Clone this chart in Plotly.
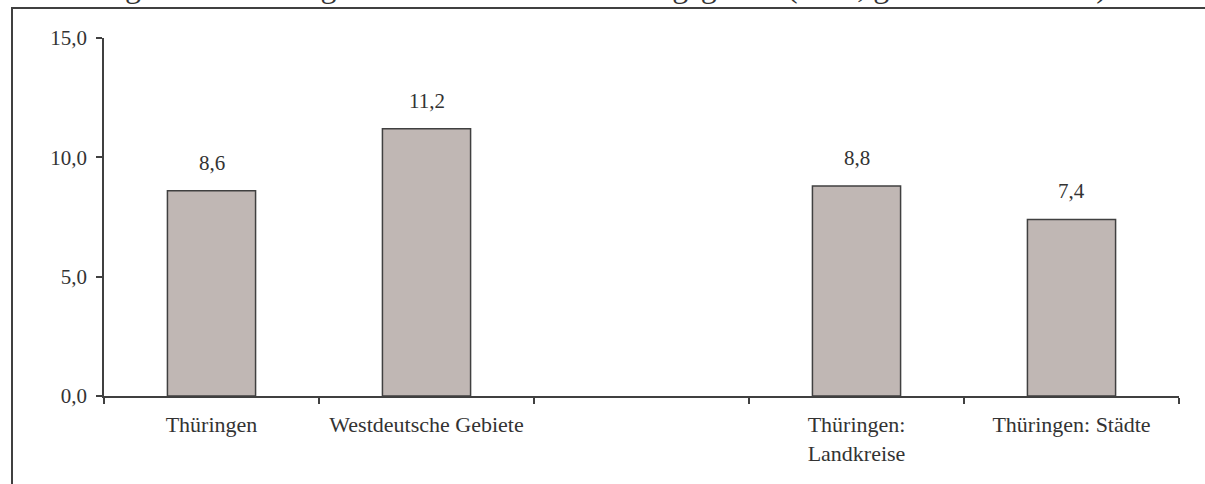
import plotly.graph_objects as go

categories = ["Thüringen", "Westdeutsche Gebiete", " ", "Thüringen:<br>Landkreise", "Thüringen: Städte"]
values = [8.6, 11.2, None, 8.8, 7.4]
y_ticks = [0, 5, 10, 15]
title_text = "Belastung durch Zahlungsrückstände nach Erhebungsgebiet (in %, gewichtete Daten)"

W, H = 1205, 484
ml, mr, mt, mb = 104, 26, 38, 88
pw, ph = W - ml - mr, H - mt - mb

def px_x(px):
    return (px - ml) / pw

def px_y(py):
    return (H - mb - py) / ph

FONT = "Liberation Serif"
TXT = "#333333"
LINE = "#404040"

fig = go.Figure()
fig.add_trace(go.Bar(
    x=categories, y=values, width=0.41,
    marker=dict(color="#c0b7b4", line=dict(color=LINE, width=1.5)),
    hoverinfo="skip",
))

annotations = []
for c, v in zip(categories, values):
    if v is None:
        continue
    annotations.append(dict(
        x=c, y=v, xref="x", yref="y", text=f"{v:.1f}".replace(".", ","),
        showarrow=False, yanchor="middle", yshift=28,
        font=dict(family=FONT, size=21, color=TXT),
    ))
annotations.append(dict(
    x=px_x(560), y=px_y(5), xref="paper", yref="paper", text=title_text,
    showarrow=False, xanchor="center", yanchor="bottom", borderpad=0,
    font=dict(family=FONT, size=32, color=TXT),
))

shapes = [
    dict(type="line", xref="paper", yref="paper", x0=px_x(12), x1=px_x(12),
         y0=px_y(8), y1=px_y(520), line=dict(color=LINE, width=2)),
    dict(type="line", xref="paper", yref="paper", x0=px_x(11), x1=px_x(1230),
         y0=px_y(8), y1=px_y(8), line=dict(color=LINE, width=2)),
]

fig.update_layout(
    width=W, height=H,
    margin=dict(l=ml, r=mr, t=mt, b=mb),
    paper_bgcolor="white", plot_bgcolor="white",
    showlegend=False,
    separators=",.",
    font=dict(family=FONT, size=21, color=TXT),
    annotations=annotations,
    shapes=shapes,
    xaxis=dict(
        type="category", range=[-0.5, 4.5], tickson="boundaries",
        ticks="outside", ticklen=6, tickwidth=1.5, tickcolor=LINE,
        showline=True, linecolor=LINE, linewidth=1.5, showgrid=False,
        ticklabelstandoff=8,
        tickfont=dict(family=FONT, size=22, color=TXT),
    ),
    yaxis=dict(
        range=[0, 15], tickvals=y_ticks, tickformat=".1f",
        ticks="outside", ticklen=6, tickwidth=1.5, tickcolor=LINE,
        showline=True, linecolor=LINE, linewidth=1.5, showgrid=False,
        zeroline=False, ticklabelstandoff=5,
        tickfont=dict(family=FONT, size=21, color=TXT),
    ),
)

fig.write_html(
    "out.html",
    config={"displayModeBar": False},
    post_script="document.body.style.margin='0';document.body.style.overflow='hidden';",
)
